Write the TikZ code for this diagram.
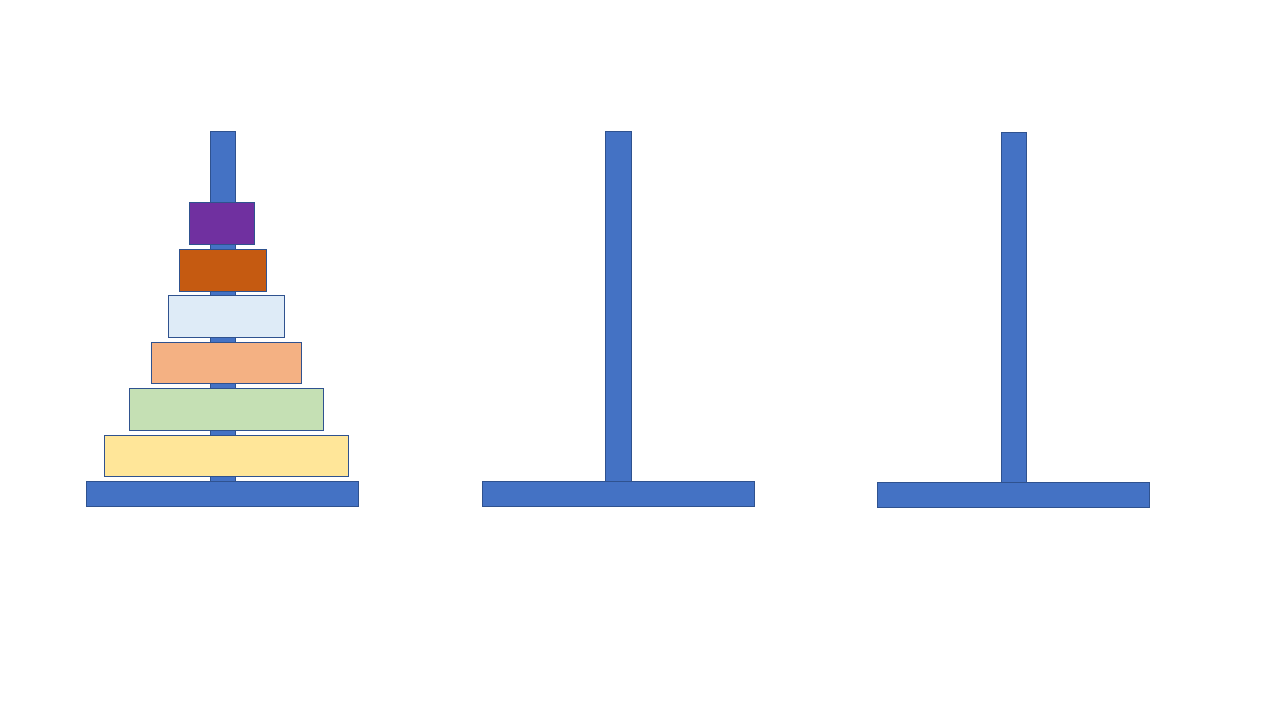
\documentclass[tikz,border=0pt]{standalone}
\definecolor{peg}{HTML}{4472C4}
\definecolor{edge}{HTML}{2F528F}
\definecolor{dpurple}{HTML}{7030A0}
\definecolor{dorange}{HTML}{C55A11}
\definecolor{dlblue}{HTML}{DEEBF7}
\definecolor{dpeach}{HTML}{F4B183}
\definecolor{dgreen}{HTML}{C5E0B4}
\definecolor{dyellow}{HTML}{FFE699}
\tikzset{
  part/.style={draw=edge, line width=0.9pt},
  pegpart/.style={part, fill=peg},
}
\begin{document}
\begin{tikzpicture}[x=1pt,y=-1pt]
\useasboundingbox[fill=white] (0,0) rectangle (1280,720);
% left peg
\draw[pegpart] (210,131) rectangle (235.3,481);
\draw[pegpart] (86.3,481) rectangle (358.3,506.3);
% disks
\draw[part, fill=dyellow] (104.3,435.3) rectangle (348.3,476.3);
\draw[part, fill=dgreen] (129.3,388.3) rectangle (323.3,430.3);
\draw[part, fill=dpeach] (151.3,342.3) rectangle (301.3,383.3);
\draw[part, fill=dlblue] (168.3,295.3) rectangle (284.3,337.3);
\draw[part, fill=dorange] (179.3,249.3) rectangle (266.3,291.3);
\draw[part, fill=dpurple] (189.3,202.3) rectangle (254.3,244.3);
% middle peg
\draw[pegpart] (605.3,131) rectangle (631.3,481);
\draw[pegpart] (482.3,481) rectangle (754.3,506.3);
% right peg
\draw[pegpart] (1001,132) rectangle (1026,482);
\draw[pegpart] (877.3,482) rectangle (1149.3,507.3);
\end{tikzpicture}
\end{document}
